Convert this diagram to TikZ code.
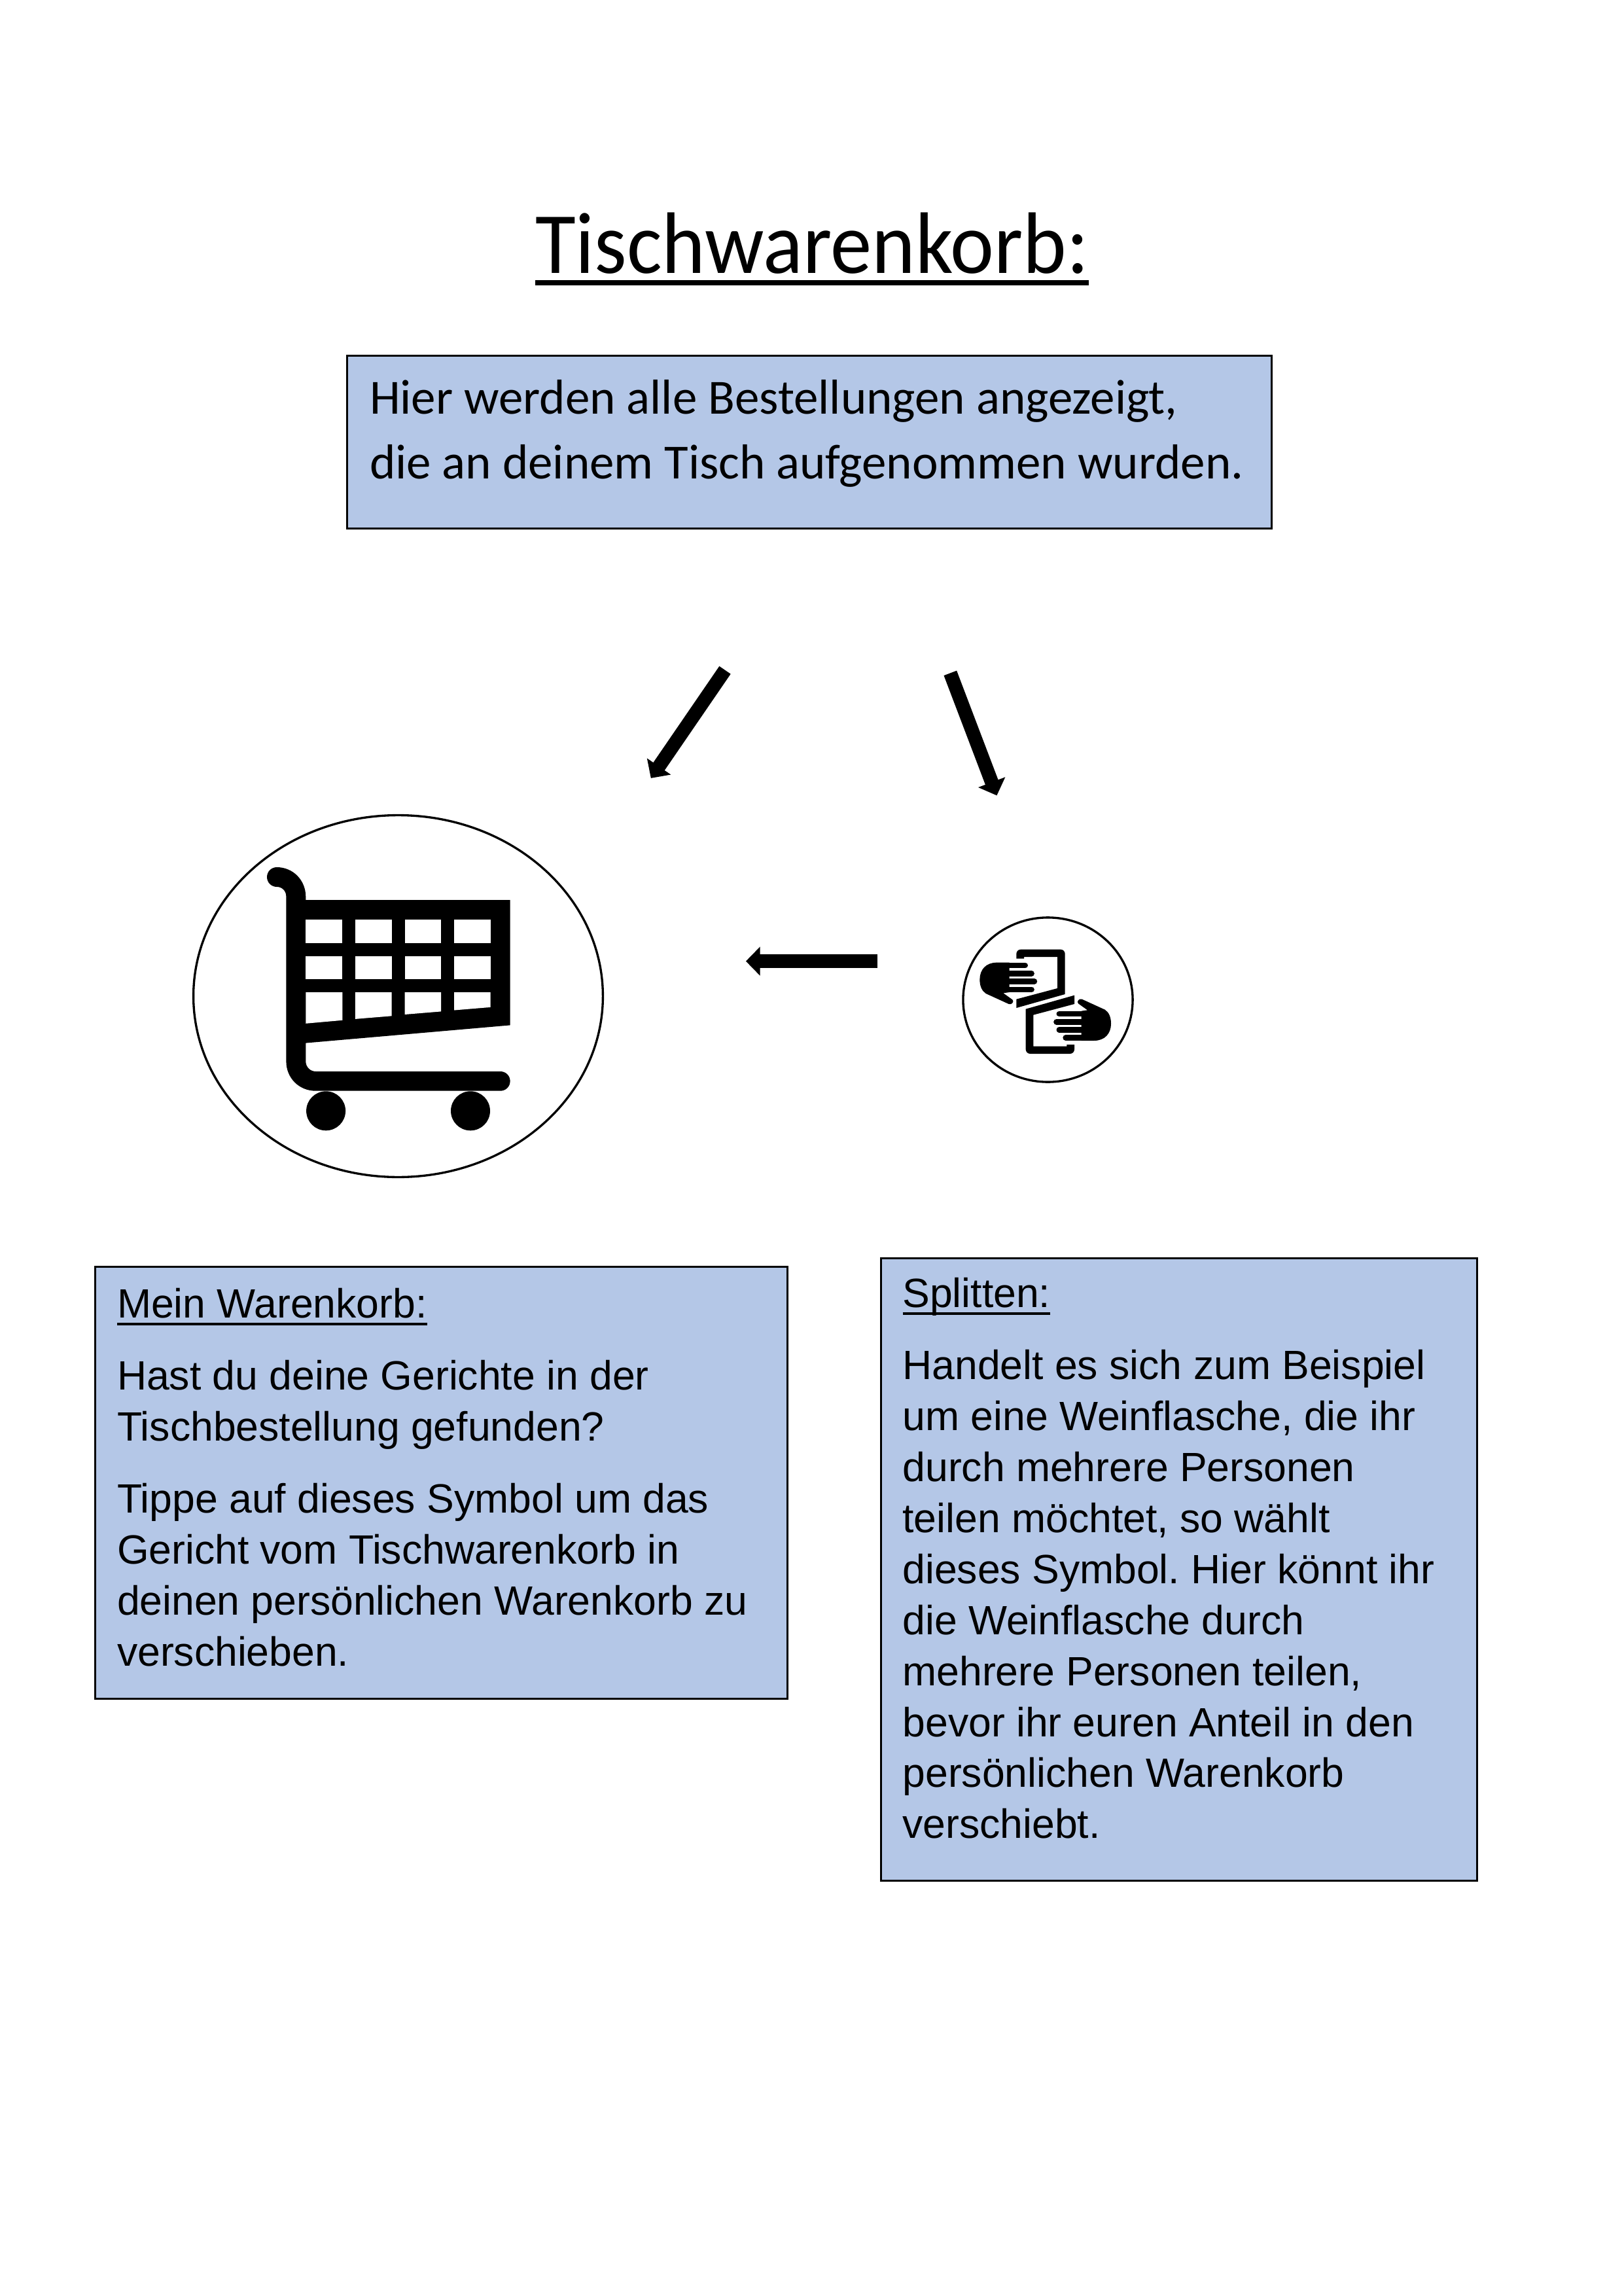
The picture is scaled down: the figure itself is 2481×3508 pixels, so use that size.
\documentclass[tikz,border=0pt]{standalone}
\usepackage{fontspec}
\setmainfont{Liberation Sans}
\newfontfamily\calibrifont{Carlito}
\newfontfamily\calibrititle[FakeStretch=0.95]{Carlito}
\usetikzlibrary{arrows.meta,shapes.geometric}
\definecolor{boxblue}{HTML}{B4C7E7}
\newcommand{\ulfixed}[3]{\leavevmode\setbox0\hbox{#3}\rlap{\rule[#1]{\wd0}{#2}}\box0 }
\newcommand{\firstline}[1]{\rule{0pt}{#1}}
\tikzset{
  infobox/.style={draw=black,fill=boxblue,line width=0.72pt,rectangle,inner sep=0pt,outer sep=0pt},
  boxtext/.style={anchor=north west,inner sep=0pt,outer sep=0pt,align=left,font=\frenchspacing\fontsize{15pt}{18.7pt}\selectfont},
  toptext/.style={anchor=north west,inner sep=0pt,outer sep=0pt,align=left,font=\calibrifont\fontsize{18pt}{23.76pt}\selectfont},
  titletext/.style={anchor=base west,inner sep=0pt,outer sep=0pt,font=\calibrititle\fontsize{32pt}{36pt}\selectfont},
  symbolring/.style={draw=black,ellipse,line width=0.8pt,inner sep=0pt,outer sep=0pt},
  bigarrow/.style={line width=5.04pt,-{Triangle[length=5.2pt,width=10.3pt]}}
}
\newcommand{\splithand}{%
  \fill (190,242) .. controls (140,242) and (112,275) .. (112,320)
        .. controls (112,350) and (122,372) .. (140,384)
        -- (245,432) .. controls (258,438) and (272,420) .. (262,412)
        -- (220,382) -- (248,378) -- (248,242) -- cycle;
  \draw[line width=2.08pt,line cap=round] (240,255) -- (320,255);
  \draw[line width=2.0pt,line cap=round] (240,292) -- (350,292);
  \draw[line width=2.16pt,line cap=round] (240,328) -- (362,328);
  \draw[line width=2.0pt,line cap=round] (240,365) -- (350,365);
  \fill (280,224) [rounded corners=1.6pt] -- (280,182) -- (503,182) [sharp corners] -- (503,387)
        -- (280,450) -- (280,410) -- (468,360) -- (468,216) -- (315,216) -- (315,224) -- cycle;
}
\begin{document}
\begin{tikzpicture}[x=0.24pt,y=-0.24pt]
\useasboundingbox (0,0) rectangle (2481,3508);
% title
\node[titletext] (title) at (818,418) {\ulfixed{-4.3pt}{1.92pt}{Tischwarenkorb:}};
% top box
\node[infobox,minimum width=339pt,minimum height=63.3pt] (topbox) at (1237,675.5) {};
\node[toptext] (toptxt) at (565,570.3) {\firstline{15pt}Hier werden alle Bestellungen angezeigt,\\die an deinem Tisch aufgenommen wurden.};
% arrows
\coordinate (a1s) at (1108,1023.8);
\coordinate (a1e) at (994.8,1188.9);
\coordinate (a2s) at (1452.3,1028.4);
\coordinate (a2e) at (1523.4,1215.4);
\coordinate (a3s) at (1340.5,1468.6);
\coordinate (a3e) at (1139.9,1468.6);
\draw[bigarrow] (a1s) -- (a1e);
\draw[bigarrow] (a2s) -- (a2e);
\draw[bigarrow] (a3s) -- (a3e);
% cart symbol
\node[symbolring,minimum width=150.2pt,minimum height=132.7pt] (cartring) at (608.5,1522) {};
\fill (423,1325) .. controls (448,1325) and (467.3,1345) .. (467.3,1370) -- (467.3,1375)
  -- (779.6,1375) -- (779.6,1566.4) -- (467.3,1593.6) -- (467.3,1621.6)
  .. controls (467.3,1630) and (474,1637) .. (482.5,1637) -- (764.8,1637)
  arc[start angle=-90,end angle=90,radius=14.85]
  -- (482.5,1666.7) .. controls (457,1666.7) and (437.4,1647) .. (437.4,1621.6)
  -- (437.4,1370) .. controls (437.4,1361) and (431,1355) .. (423,1355)
  arc[start angle=90,end angle=270,radius=15] -- cycle;
\foreach \xa/\xb in {467.3/523.3,542.8/598.7,618.7/674.2,694.1/749.6}{
  \fill[white] (\xa,1405.3) rectangle (\xb,1440.5);
  \fill[white] (\xa,1460.8) rectangle (\xb,1496);
}
\fill[white] (467.3,1516) -- (523.3,1516) -- (523.3,1558.8) -- (467.3,1563.8) -- cycle;
\fill[white] (542.8,1516) -- (598.7,1516) -- (598.7,1552.3) -- (542.8,1556.9) -- cycle;
\fill[white] (618.7,1516) -- (674.2,1516) -- (674.2,1545.4) -- (618.7,1550) -- cycle;
\fill[white] (694.1,1516) -- (749.6,1516) -- (749.6,1538.9) -- (694.1,1543.5) -- cycle;
\fill (498.1,1697.3) circle[radius=30];
\fill (719,1697.3) circle[radius=30];
% split symbol
\node[symbolring,minimum width=62.2pt,minimum height=60.3pt] (splitring) at (1601.5,1527.5) {};
\begin{scope}[shift={(1460,1390)}]
  \begin{scope}[x=0.08pt,y=-0.08pt]
    \splithand
    \begin{scope}[shift={(826,842)},x=-0.08pt,y=0.08pt]
      \splithand
    \end{scope}
  \end{scope}
\end{scope}
% left box
\node[infobox,minimum width=254pt,minimum height=158.6pt] (leftbox) at (674.3,2265.5) {};
\node[boxtext] (lefttxt) at (179,1963) {\firstline{12pt}\ulfixed{-2.9pt}{1pt}{Mein Warenkorb:}\\[7.8pt]
Hast du deine Gerichte in der\\Tischbestellung gefunden?\\[7.8pt]
Tippe auf dieses Symbol um das\\Gericht vom Tischwarenkorb in\\deinen persönlichen Warenkorb zu\\verschieben.};
% right box
\node[infobox,minimum width=218.7pt,minimum height=228.2pt] (rightbox) at (1802,2397.6) {};
\node[boxtext] (righttxt) at (1379.5,1947.2) {\firstline{12pt}\ulfixed{-2.9pt}{1pt}{Splitten:}\\[7.8pt]
Handelt es sich zum Beispiel\\um eine Weinflasche, die ihr\\durch mehrere Personen\\teilen möchtet, so wählt\\dieses Symbol. Hier könnt ihr\\die Weinflasche durch\\mehrere Personen teilen,\\bevor ihr euren Anteil in den\\persönlichen Warenkorb\\verschiebt.};
\end{tikzpicture}
\end{document}
